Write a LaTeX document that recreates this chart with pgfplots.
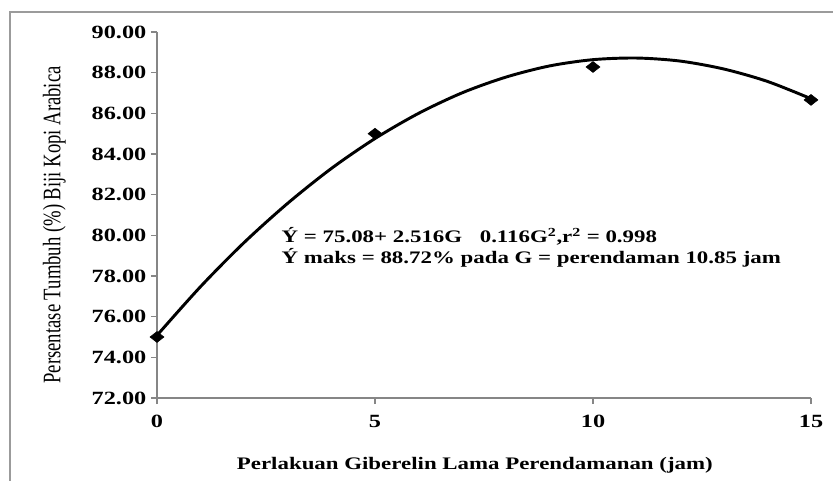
\documentclass[border=0pt]{standalone}
\usepackage{pgfplots}
\pgfplotsset{compat=1.18}
\usepackage{fontspec}
\setmainfont{Liberation Serif}[FakeStretch=1.3]
\newfontfamily\ylabfont{Liberation Serif}
\definecolor{axgray}{RGB}{134,134,134}
\definecolor{framegray}{RGB}{155,155,155}
\begin{document}
\begin{tikzpicture}
\useasboundingbox (0,0) rectangle (624.75pt,360pt);
\draw[framegray, line width=1.2pt] (7.5pt,-1pt) -- (7.5pt,351pt) -- (626pt,351pt);
\begin{axis}[
  at={(117.75pt,61.5pt)}, anchor=south west,
  scale only axis, width=490.5pt, height=274.5pt,
  xmin=0, xmax=15, ymin=72, ymax=90,
  axis x line*=bottom, axis y line*=left,
  axis line style={-, draw=axgray, line width=0.8pt},
  xtick={0,5,10,15}, ytick={72,74,...,90},
  tick align=outside, major tick length=4.5pt,
  tick style={draw=axgray, line width=0.8pt},
  /pgf/number format/assume math mode=true,
  yticklabel style={font=\bfseries\fontsize{14}{16}\selectfont, /pgf/number format/.cd, fixed, fixed zerofill, precision=2},
  xticklabel style={font=\bfseries\fontsize{14}{16}\selectfont, yshift=-5pt},
  xlabel={Perlakuan Giberelin Lama Perendamanan (jam)},
  xlabel style={font=\bfseries\fontsize{13.2}{15}\selectfont, at={(rel axis cs:0.486,-0.183)}, anchor=center},
  ylabel={\ylabfont\fontsize{14}{16}\selectfont\scalebox{1}[1.35]{Persentase Tumbuh (\%) Biji Kopi Arabica}},
  ylabel style={at={(rel axis cs:-0.157,0.473)}, anchor=center},
  clip=false,
]
\addplot[black, line width=2.2pt, smooth, no markers] coordinates {
(0,75.08) (1,77.48) (2,79.65) (3,81.58) (4,83.29) (5,84.76) (6,86.00) (7,87.01)
(8,87.78) (9,88.33) (10,88.64) (11,88.72) (12,88.57) (13,88.18) (14,87.57) (15,86.72)
};
\addplot[only marks, mark=diamond*, mark size=4.1pt, mark options={xscale=1.7, fill=black, draw=black}] coordinates {
(0,75.0) (5,85.0) (10,88.28) (15,86.66)
};
\node[anchor=west, align=left, font=\bfseries\fontsize{13.2}{15.75}\selectfont] at (rel axis cs:0.1835,0.411)
  {Ý = 75.08+ 2.516G\quad 0.116G\textsuperscript{2},r\textsuperscript{2} = 0.998\\
   Ý maks = 88.72\% pada G = perendaman 10.85 jam};
\end{axis}
\end{tikzpicture}
\end{document}
